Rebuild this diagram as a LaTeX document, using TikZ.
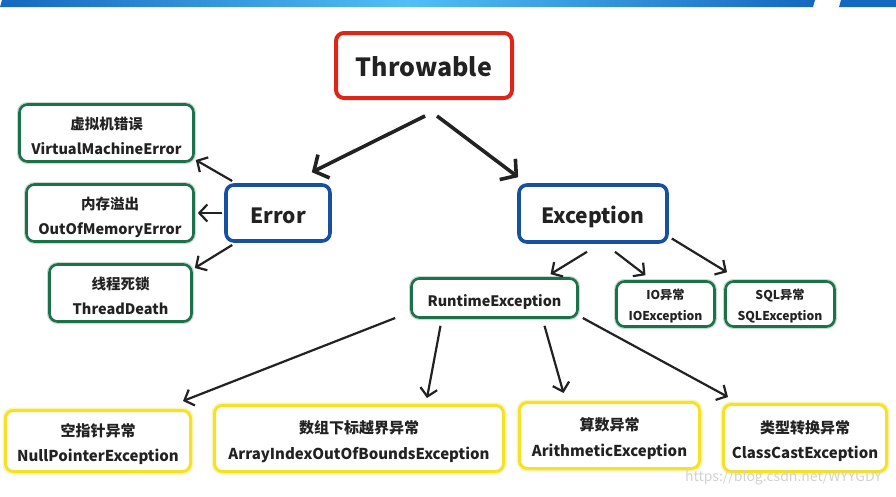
\documentclass[tikz,border=0pt]{standalone}
\usepackage{fontspec}
\setmainfont{Noto Sans CJK SC}
\usetikzlibrary{arrows.meta,calc}
\definecolor{cred}{RGB}{222,38,24}
\definecolor{cblue}{RGB}{22,80,160}
\definecolor{cgreen}{RGB}{28,112,74}
\definecolor{cyel}{RGB}{245,226,40}
\definecolor{ctext}{RGB}{34,34,34}
\definecolor{barA}{RGB}{20,104,190}
\definecolor{barB}{RGB}{82,190,246}
\newcommand\oneln[2]{\raisebox{-#1}[\height][\depth]{#2}}
\newcommand\twoln[3]{\raisebox{-#1}[\height][\depth]{\begin{tabular}{@{}c@{}}#2\\#3\end{tabular}}}
\tikzset{
  box/.style={rounded corners=8pt, text=ctext, font=\bfseries, inner sep=0pt},
  redbox/.style={box, draw=cred, line width=4pt, fill=white},
  bluebox/.style={box, draw=cblue, line width=3.6pt, fill=white},
  greenbox/.style={box, draw=cgreen, line width=2.6pt, fill=white,
    preaction={draw=cgreen!25, line width=5pt}},
  yelbox/.style={box, draw=cyel, line width=3pt, fill=white,
    preaction={draw=cyel!35, line width=6pt}},
  gfont/.style={font=\bfseries\fontsize{14.5}{25}\selectfont},
  yfont/.style={font=\bfseries\fontsize{15}{25.5}\selectfont},
  arr/.style={draw=ctext, line width=2.2pt, -{Straight Barb[length=8pt,width=17pt,line width=2.2pt]}},
  bigarr/.style={draw=ctext, line width=3.6pt, -{Straight Barb[length=11pt,width=26pt,line width=3.6pt]}},
}
\begin{document}
\begin{tikzpicture}[x=1pt,y=-1pt]
\useasboundingbox (0,0) rectangle (896,496);
\fill[white] (0,0) rectangle (896,496);
% top bar
\shade[left color=barA, right color=barA, middle color=barB] (2,0) -- (815,0) -- (813,7) -- (0,7) -- cycle;
\fill[barA] (841,0) -- (896,0) -- (896,7) -- (839,7) -- cycle;

% nodes
\node[redbox, minimum width=176pt, minimum height=65pt, font=\bfseries\fontsize{25}{30}\selectfont] (thr) at (424,65.5) {\oneln{1.5pt}{Throwable}};
\node[bluebox, minimum width=104pt, minimum height=56pt, font=\bfseries\fontsize{21}{26}\selectfont] (err) at (278,213) {\oneln{3pt}{Error}};
\node[bluebox, minimum width=148pt, minimum height=57pt, font=\bfseries\fontsize{21}{26}\selectfont] (exc) at (593,213.5) {\oneln{3.5pt}{Exception}};

\node[greenbox, gfont, minimum width=174pt, minimum height=57pt] (vme) at (106.5,133) {\twoln{3.5pt}{虚拟机错误}{VirtualMachineError}};
\node[greenbox, gfont, minimum width=167pt, minimum height=57pt] (oom) at (110,213) {\twoln{3.5pt}{内存溢出}{OutOfMemoryError}};
\node[greenbox, gfont, minimum width=142pt, minimum height=57pt] (td) at (120.5,293) {\twoln{3.5pt}{线程死锁}{ThreadDeath}};

\node[greenbox, minimum width=166pt, minimum height=39pt, font=\bfseries\fontsize{14.4}{18}\selectfont] (rt) at (494.5,298) {\oneln{3.5pt}{RuntimeException}};
\node[greenbox, minimum width=98pt, minimum height=45pt, font=\bfseries\fontsize{12.2}{21}\selectfont] (io) at (665.5,304) {\twoln{2pt}{IO异常}{IOException}};
\node[greenbox, minimum width=109pt, minimum height=45pt, font=\bfseries\fontsize{12.2}{21}\selectfont] (sql) at (780,304) {\twoln{2pt}{SQL异常}{SQLException}};

\node[yelbox, yfont, minimum width=185pt, minimum height=61pt] (npe) at (98,441) {\twoln{2.7pt}{空指针异常}{NullPointerException}};
\node[yelbox, yfont, minimum width=289pt, minimum height=66pt] (arr) at (359,438.5) {\twoln{2.7pt}{数组下标越界异常}{ArrayIndexOutOfBoundsException}};
\node[yelbox, yfont, minimum width=180pt, minimum height=66pt] (ari) at (609.5,435.5) {\twoln{2.7pt}{算数异常}{ArithmeticException}};
\node[yelbox, yfont, minimum width=163pt, minimum height=67pt] (cc) at (805,438) {\twoln{2.7pt}{类型转换异常}{ClassCastException}};

% watermark
\node[text=gray!35, font=\fontsize{14}{16}\selectfont, anchor=east, inner sep=0pt] (wm) at (882,478) {https://blog.csdn.net/WYYGDY};

% connectors
\draw[bigarr] ($(thr.south)+(1,16)$) -- ($(err.north east)+(-20,-11)$);
\draw[bigarr] ($(thr.south)+(13,16)$) -- ($(exc.north west)+(1,-6)$);

\draw[arr] ($(err.west)+(8,-32)$) -- ($(vme.east)+(1,27)$);
\draw[arr] ($(err.west)+(-2,0)$) -- ($(oom.east)+(3,0)$);
\draw[arr] ($(err.west)+(8,32)$) -- ($(td.east)+(2,-25)$);

\draw[arr] ($(exc.south)+(-6,8)$) -- ($(rt.north)+(56,-3)$);
\draw[arr] ($(exc.south)+(22,8)$) -- ($(io.north)+(-20,-5)$);
\draw[arr] ($(exc.east)+(3,25)$) -- ($(sql.north)+(-53,-8)$);

\draw[arr] ($(rt.west)+(-15,20)$) -- ($(npe.north)+(85,-8)$);
\draw[arr] ($(rt.south)+(-54,7)$) -- ($(arr.north)+(68,-6)$);
\draw[arr] ($(rt.south)+(50,7)$) -- ($(ari.north)+(-46,-8)$);
\draw[arr] ($(rt.east)+(4,20)$) -- ($(cc.north)+(-77,-6)$);
\end{tikzpicture}
\end{document}
